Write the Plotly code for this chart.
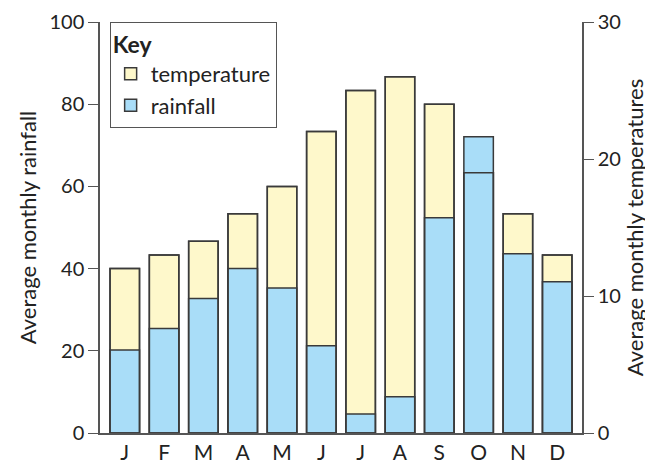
import plotly.graph_objects as go

months = ["J", "F", "M", "A", "M", "J", "J", "A", "S", "O", "N", "D"]
temperature = [12, 13, 14, 16, 18, 22, 25, 26, 24, 19, 16, 13]
rainfall = [20.2, 25.4, 32.7, 40, 35.3, 21.2, 4.6, 8.8, 52.4, 72.1, 43.6, 36.8]

x = list(range(len(months)))
YELLOW = "#FEF8CB"
BLUE = "#A9DDF8"
EDGE = "#3a3a3a"
AXC = "#555555"
FONT = "Lato"

fig = go.Figure()
fig.add_trace(go.Bar(x=x, y=temperature, name="temperature", yaxis="y",
                     width=0.75, marker=dict(color=YELLOW, line=dict(color=EDGE, width=1.5))))
fig.add_trace(go.Bar(x=x, y=rainfall, name="rainfall", yaxis="y2",
                     width=0.75, marker=dict(color=BLUE, line=dict(color=EDGE, width=1.5))))
fig.add_trace(go.Bar(x=x, y=temperature, showlegend=False, yaxis="y3", hoverinfo="skip",
                     width=0.75, marker=dict(color="rgba(0,0,0,0)", line=dict(color=EDGE, width=1.5))))

# page body has an 8px margin, so the figure is 8px smaller and margins shifted
fig.update_layout(
    width=645, height=458,
    margin=dict(l=92, r=71, t=14, b=33),
    paper_bgcolor="white", plot_bgcolor="white",
    barmode="overlay",
    font=dict(family=FONT, color="#222222", size=18),
    showlegend=True,
    legend=dict(
        x=0.02, y=1.0, xanchor="left", yanchor="top",
        bordercolor="#555555", borderwidth=1, bgcolor="white",
        title=dict(text="<b>Key</b>", side="top", font=dict(size=23, family=FONT)),
        font=dict(size=22, family=FONT),
        traceorder="normal",
    ),
    xaxis=dict(
        range=[-0.63, 11.63], tickmode="array", tickvals=x, ticktext=months,
        showline=True, linecolor=AXC, linewidth=1.5, ticks="", showgrid=False,
        zeroline=False, tickfont=dict(size=21), automargin=False,
    ),
    yaxis=dict(
        range=[0, 30], side="right", tickvals=[0, 10, 20, 30],
        showline=True, linecolor=AXC, linewidth=1.5, ticks="outside", ticklen=10,
        tickcolor=AXC, showgrid=False, zeroline=False, tickfont=dict(size=20),
        title=dict(text="Average monthly temperatures", font=dict(size=22), standoff=8),
        automargin=False,
    ),
    yaxis2=dict(
        range=[0, 100], side="left", overlaying="y", tickvals=[0, 20, 40, 60, 80, 100],
        showline=True, linecolor=AXC, linewidth=1.5, ticks="outside", ticklen=10,
        tickcolor=AXC, showgrid=False, zeroline=False, tickfont=dict(size=20),
        title=dict(text="Average monthly rainfall", font=dict(size=22), standoff=7),
        automargin=False,
    ),
    yaxis3=dict(range=[0, 30], overlaying="y", visible=False),
)

fig.write_html("out.html")
